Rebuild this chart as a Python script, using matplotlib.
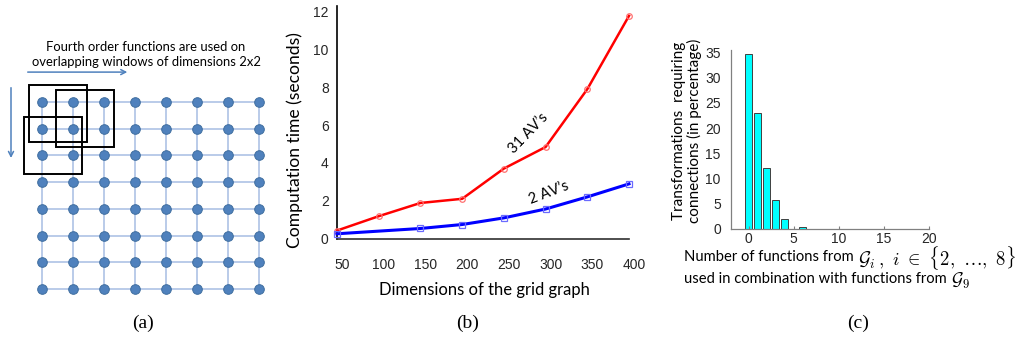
import matplotlib
matplotlib.use("Agg")
import matplotlib.pyplot as plt
from matplotlib.patches import Rectangle
import matplotlib.transforms as mtransforms

# ---------------- data ----------------
# (a) grid graph
grid_rows = 8
grid_cols = 8
windows = [(0, 0), (0, 1), (1, 0)]          # (row, col) of top-left node of each 2x2 window
diagram_text = ["Fourth order functions are used on",
                "overlapping windows of dimensions 2x2"]

# (b) computation time
dims_31 = [50, 100, 150, 200, 250, 300, 350, 400]
time_31 = [0.42, 1.18, 1.88, 2.10, 3.70, 4.84, 7.90, 11.78]
dims_2 = [50, 150, 200, 250, 300, 350, 400]
time_2 = [0.25, 0.53, 0.74, 1.09, 1.56, 2.20, 2.89]
b_yticks = [0, 2, 4, 6, 8, 10, 12]
b_xticks = [50, 100, 150, 200, 250, 300, 350, 400]

# (c) histogram
n_funcs = [0, 1, 2, 3, 4, 5, 6]
pct = [34.8, 23.0, 12.0, 5.8, 2.0, 0.0, 0.3]
c_xticks = [0, 5, 10, 15, 20]
c_yticks = [0, 5, 10, 15, 20, 25, 30, 35]

# ---------------- layout ----------------
W, H = 1016, 339
plt.rcParams['mathtext.fontset'] = 'cm'
fig = plt.figure(figsize=(W / 100, H / 100), dpi=100)


def rect(l, t, r, b):
    return [l / W, 1 - b / H, (r - l) / W, (b - t) / H]


SANS = 'Lato'
ARIAL = 'Liberation Sans'
SERIF = 'Liberation Serif'

# ---------------- (a) ----------------
ax_a = fig.add_axes(rect(0, 30, 290, 310))
ax_a.set_xlim(-42 / 31, (290 - 42) / 31)
ax_a.set_ylim((310 - 102) / 26.7, (30 - 102) / 26.7)
ax_a.axis('off')
line_c = '#B4C7E7'
for r in range(grid_rows):
    ax_a.plot([0, grid_cols - 1], [r, r], color=line_c, lw=1.3, zorder=1)
for c in range(grid_cols):
    ax_a.plot([c, c], [0, grid_rows - 1], color=line_c, lw=1.3, zorder=1)
xs = [c for r in range(grid_rows) for c in range(grid_cols)]
ys = [r for r in range(grid_rows) for c in range(grid_cols)]
ax_a.scatter(xs, ys, s=48, color='#4F81BD', edgecolors='#3F6E9F', linewidths=0.7, zorder=3)
win_off = [(-0.42, -0.64), (-0.55, -0.45), (-0.58, -0.44)]
for (r0, c0), (dx, dy) in zip(windows, win_off):
    ax_a.add_patch(Rectangle((c0 + dx, r0 + dy), 1.88, 2.14, fill=False,
                             edgecolor='black', lw=1.4, zorder=4))
ax_a.annotate('', xy=(2.84, -1.12), xytext=(-0.55, -1.12),
              arrowprops=dict(arrowstyle='->,head_length=0.35,head_width=0.18',
                              color='#4F81BD', lw=1.1))
ax_a.annotate('', xy=(-1.0, 2.2), xytext=(-1.0, -0.64),
              arrowprops=dict(arrowstyle='->,head_length=0.35,head_width=0.18',
                              color='#4F81BD', lw=1.1))
fig.text(146 / W, 1 - 47 / H, diagram_text[0], ha='center', va='center',
         fontsize=9.4, family=SANS)
fig.text(146 / W, 1 - 62 / H, diagram_text[1], ha='center', va='center',
         fontsize=9.4, family=SANS)
fig.text(143 / W, 1 - 323 / H, '(a)', ha='center', va='center', fontsize=14, family=SERIF)

# ---------------- (b) ----------------
ax_b = fig.add_axes(rect(337, 6, 629, 238.5))
ax_b.plot(dims_31, time_31, color='#FF0000', lw=1.8, marker='o', ms=4,
          mfc='none', mec='#FF7070', mew=0.9, zorder=3, clip_on=False)
ax_b.plot(dims_2, time_2, color='#0000FF', lw=2.2, marker='s', ms=4.5,
          mfc='none', mec='#6A6AFF', mew=0.9, zorder=3, clip_on=False)
ax_b.set_xlim(50, 400)
ax_b.set_ylim(0, 12.3)
for s in ['top', 'right']:
    ax_b.spines[s].set_visible(False)
ax_b.spines['left'].set_color('black')
ax_b.spines['left'].set_linewidth(1.2)
ax_b.spines['bottom'].set_color('#303030')
ax_b.spines['bottom'].set_linewidth(1.2)
ax_b.set_xticks(b_xticks)
ax_b.set_yticks(b_yticks)
ax_b.tick_params(axis='both', length=0, labelsize=10, colors='#262626')
ax_b.tick_params(axis='x', pad=14)
ax_b.tick_params(axis='y', pad=6)
for lab in ax_b.get_xticklabels() + ax_b.get_yticklabels():
    lab.set_family(ARIAL)
off = mtransforms.ScaledTranslation(5 / 100, 0, fig.dpi_scale_trans)
for lab in ax_b.get_xticklabels():
    lab.set_transform(lab.get_transform() + off)
fig.text(295 / W, 1 - 140 / H, 'Computation time (seconds)', rotation=90,
         ha='center', va='center', fontsize=12.6, family=SANS)
fig.text(484 / W, 1 - 290 / H, 'Dimensions of the grid graph',
         ha='center', va='center', fontsize=12, family=SANS)
fig.text(528 / W, 1 - 133 / H, '31 AV\u2019s', rotation=46, ha='center', va='center',
         fontsize=10.5, family=SANS)
fig.text(549 / W, 1 - 193 / H, '2 AV\u2019s', rotation=21, ha='center', va='center',
         fontsize=10.5, family=SANS)
fig.text(468 / W, 1 - 323 / H, '(b)', ha='center', va='center', fontsize=14, family=SERIF)

# ---------------- (c) ----------------
ax_c = fig.add_axes(rect(730.5, 50, 929, 229))
ax_c.bar(n_funcs, pct, width=0.8, color='#00FFFF', edgecolor='#404040', linewidth=0.7)
ax_c.set_xlim(-2, 20)
ax_c.set_ylim(0, 35.5)
for s in ['top', 'right']:
    ax_c.spines[s].set_visible(False)
for s in ['left', 'bottom']:
    ax_c.spines[s].set_color('#808080')
    ax_c.spines[s].set_linewidth(0.9)
ax_c.set_xticks(c_xticks)
ax_c.set_yticks(c_yticks)
ax_c.tick_params(axis='x', direction='in', length=2.5, color='#808080', pad=2)
ax_c.tick_params(axis='y', length=0, pad=7)
ax_c.tick_params(axis='both', labelsize=10, labelcolor='#262626')
for lab in ax_c.get_xticklabels() + ax_c.get_yticklabels():
    lab.set_family(ARIAL)
fig.text(687 / W, 1 - 131 / H, 'Transformations  requiring\nconnections (in percentage)',
         rotation=90, ha='center', va='center', multialignment='center',
         fontsize=11, family=SANS, linespacing=1.05)
t1 = fig.text(684 / W, 1 - 257 / H, 'Number of functions from',
              ha='left', va='center', fontsize=10.6, family=SANS)
ax_c.annotate(r'$\mathcal{G}_i\,,\ i\ \in\ \{2,\ \ldots,\ 8\}$', xy=(1, 0.5), xycoords=t1,
              xytext=(3, -1), textcoords='offset points', ha='left', va='center',
              fontsize=13.5, annotation_clip=False)
t2 = fig.text(684 / W, 1 - 279 / H, 'used in combination with functions from',
              ha='left', va='center', fontsize=10.6, family=SANS)
ax_c.annotate(r'$\mathcal{G}_9$', xy=(1, 0.5), xycoords=t2, xytext=(3, -1.5),
              textcoords='offset points', ha='left', va='center', fontsize=13,
              annotation_clip=False)
fig.text(858 / W, 1 - 323 / H, '(c)', ha='center', va='center', fontsize=14, family=SERIF)

fig.savefig('out.png', dpi=100)
